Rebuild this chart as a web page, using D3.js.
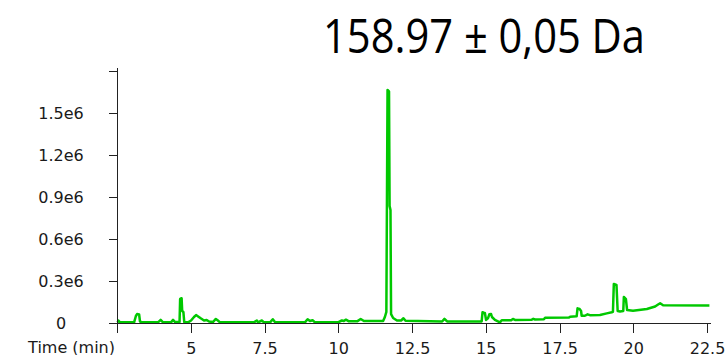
<!DOCTYPE html>
<html>
<head>
<meta charset="utf-8">
<script src="https://cdn.jsdelivr.net/npm/d3@7"></script>
<style>
  html, body { margin: 0; padding: 0; background: #fff; }
  svg { display: block; }
  .axis path, .axis line { stroke: #222; stroke-width: 1; shape-rendering: crispEdges; }
  .axis text { font-family: "DejaVu Sans", Verdana, sans-serif; font-size: 16px; fill: #1a1a1a; }
</style>
</head>
<body>
<svg id="chart" width="725" height="355"></svg>
<script>
// Extracted ion chromatogram, m/z 158.97 ± 0.05 Da
const title = "158.97 \u00b1 0,05 Da";
const xAxisLabel = "Time (min)";

// retention time (min)
const times = [
  2.52, 2.55, 2.60,
  3.08, 3.14, 3.18, 3.25, 3.28, 3.35,
  3.89, 3.98, 4.06,
  4.33, 4.40, 4.47,
  4.62, 4.64, 4.69, 4.71, 4.75, 4.78,
  4.91, 5.01, 5.11, 5.18, 5.25, 5.35, 5.45, 5.54, 5.62, 5.75, 5.85, 5.92, 5.99,
  7.14, 7.24, 7.28, 7.41, 7.48,
  7.69, 7.78, 7.86,
  8.87, 8.96, 9.04, 9.13, 9.21,
  9.99, 10.12, 10.19, 10.26, 10.36, 10.64, 10.76, 10.87,
  11.52, 11.58, 11.63, 11.67, 11.72, 11.74, 11.77, 11.79, 11.86, 11.99, 12.13, 12.21, 12.28,
  13.52, 13.60, 13.69,
  14.86, 14.89, 14.94, 14.97, 15.01, 15.08, 15.12, 15.18, 15.21, 15.31, 15.48, 15.54, 15.86, 15.92, 15.99,
  16.56, 16.61, 16.67, 16.97, 17.01, 17.82, 17.86, 18.08, 18.11, 18.18, 18.23, 18.25, 18.36, 18.45, 18.53,
  18.87, 19.10, 19.27, 19.31, 19.34, 19.43, 19.47, 19.55, 19.66, 19.68, 19.75, 19.79, 19.99,
  20.46, 20.74, 20.84, 20.91, 21.01, 22.58
];

// intensity (counts, thousands)
const intensityK = [
  7, 19, 7,
  7, 52, 66, 63, 13, 7,
  7, 24, 7,
  7, 24, 9,
  9, 174, 179, 88, 81, 9,
  7, 20, 45, 59, 49, 34, 20, 24, 13, 9, 31, 20, 7,
  7, 20, 7, 20, 7,
  7, 29, 7,
  7, 29, 16, 22, 7,
  7, 20, 16, 26, 14, 14, 31, 16,
  16, 45, 81, 1666, 1656, 838, 809, 66, 38, 20, 20, 36, 18,
  13, 32, 13,
  13, 79, 74, 74, 24, 38, 64, 66, 45, 24, 7, 22, 22, 31, 24,
  26, 32, 27, 29, 40, 41, 47, 50, 107, 102, 88, 54, 54, 64, 58,
  59, 71, 79, 82, 281, 274, 88, 84, 88, 188, 172, 95, 90,
  102, 120, 134, 143, 129, 127
];

const xTickValues = [2.5, 5, 7.5, 10, 12.5, 15, 17.5, 20, 22.5];
const xTickLabels = ["", "5", "7.5", "10", "12.5", "15", "17.5", "20", "22.5"];
const yTickValues = [0, 0.3e6, 0.6e6, 0.9e6, 1.2e6, 1.5e6, 1.8e6];
const yTickLabels = ["0", "0.3e6", "0.6e6", "0.9e6", "1.2e6", "1.5e6", ""];

const points = times.map((t, i) => ({ t, v: intensityK[i] * 1000 }));

const svg = d3.select("#chart");

const x = d3.scaleLinear().domain([2.5, 22.6]).range([117, 710]);
const y = d3.scaleLinear().domain([0, 1.83e6]).range([323.3, 67]);

// trace
svg.append("path")
  .datum(points)
  .attr("fill", "none")
  .attr("stroke", "#00c800")
  .attr("stroke-width", 2.5)
  .attr("stroke-linejoin", "round")
  .attr("d", d3.line().x(d => x(d.t)).y(d => y(d.v)));

// x axis
svg.append("g")
  .attr("class", "axis")
  .attr("transform", `translate(0,${y(0)})`)
  .call(d3.axisBottom(x)
    .tickValues(xTickValues)
    .tickFormat((d, i) => xTickLabels[i])
    .tickSize(10)
    .tickSizeOuter(0)
    .tickPadding(9));

// y axis
const yAxis = svg.append("g")
  .attr("class", "axis")
  .attr("transform", `translate(${x(2.5)},0)`)
  .call(d3.axisLeft(y)
    .tickValues(yTickValues)
    .tickFormat((d, i) => yTickLabels[i])
    .tickSize(8)
    .tickSizeOuter(0));
yAxis.selectAll(".tick text")
  .attr("text-anchor", "middle")
  .attr("x", -56);

// axis caption beside the first x tick
svg.append("text")
  .attr("x", 115)
  .attr("y", y(0) + 18)
  .attr("dy", "0.71em")
  .attr("text-anchor", "end")
  .style("font-family", "'DejaVu Sans', Verdana, sans-serif")
  .style("font-size", "16px")
  .attr("fill", "#1a1a1a")
  .text(xAxisLabel);

// title
svg.append("text")
  .attr("x", 484)
  .attr("y", 53)
  .attr("text-anchor", "middle")
  .attr("textLength", 322)
  .attr("lengthAdjust", "spacingAndGlyphs")
  .style("font-family", "'Open Sans', sans-serif")
  .style("font-size", "47px")
  .attr("fill", "#000")
  .text(title);
</script>
</body>
</html>
